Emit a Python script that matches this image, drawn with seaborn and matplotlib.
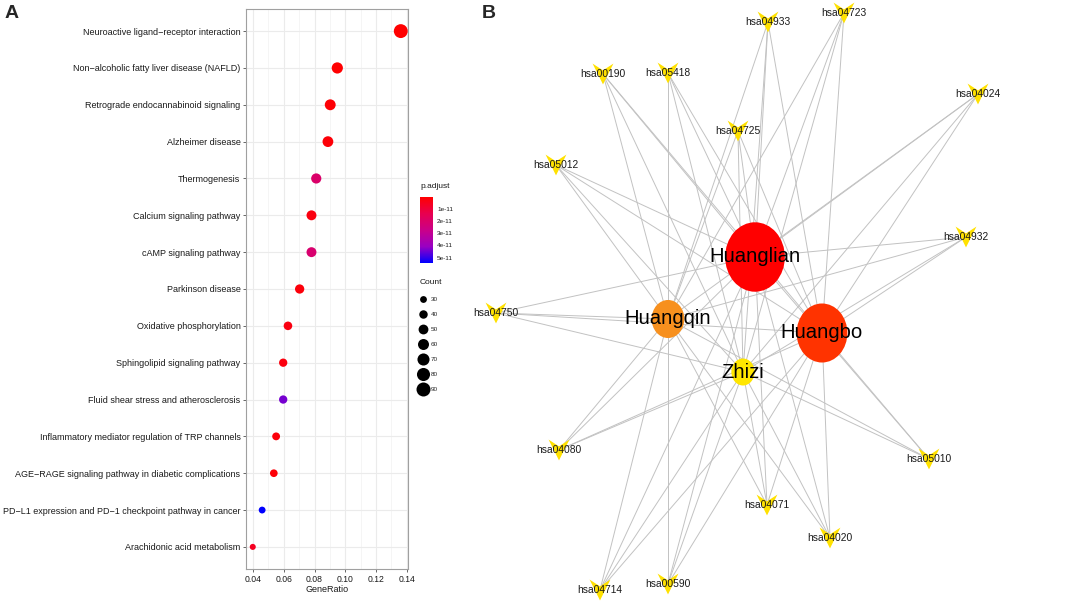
import matplotlib
matplotlib.use("Agg")
import matplotlib.pyplot as plt
import numpy as np
import pandas as pd
import seaborn as sns
from matplotlib.cm import ScalarMappable
from matplotlib.collections import LineCollection
from matplotlib.colors import LinearSegmentedColormap, Normalize
from matplotlib.lines import Line2D
from matplotlib.path import Path
from matplotlib.ticker import MultipleLocator

# ---- panel A: KEGG enrichment ----
terms = [
    "Neuroactive ligand\u2212receptor interaction",
    "Non\u2212alcoholic fatty liver disease (NAFLD)",
    "Retrograde endocannabinoid signaling",
    "Alzheimer disease",
    "Thermogenesis",
    "Calcium signaling pathway",
    "cAMP signaling pathway",
    "Parkinson disease",
    "Oxidative phosphorylation",
    "Sphingolipid signaling pathway",
    "Fluid shear stress and atherosclerosis",
    "Inflammatory mediator regulation of TRP channels",
    "AGE\u2212RAGE signaling pathway in diabetic complications",
    "PD\u2212L1 expression and PD\u22121 checkpoint pathway in cancer",
    "Arachidonic acid metabolism",
]
gene_ratio = [0.1361, 0.0948, 0.0902, 0.0887, 0.0811, 0.0780, 0.0780, 0.0703,
              0.0627, 0.0596, 0.0596, 0.0550, 0.0535, 0.0459, 0.0398]
counts = [89, 62, 59, 58, 53, 51, 51, 46, 41, 39, 39, 36, 35, 30, 26]
p_adjust = [2e-13, 5e-13, 1e-12, 1.5e-12, 2.0e-11, 3e-12, 2.1e-11, 2e-12,
            3e-12, 2.5e-12, 4.4e-11, 2e-12, 1.5e-12, 5.45e-11, 6e-12]

cbar_ticks = [1e-11, 2e-11, 3e-11, 4e-11, 5e-11]
cbar_labels = ["1e-11", "2e-11", "3e-11", "4e-11", "5e-11"]
count_breaks = [30, 40, 50, 60, 70, 80, 90]

# ---- panel B: herb-pathway network ----
herbs = ["Huanglian", "Huangqin", "Huangbo", "Zhizi"]
herb_x = [755, 668, 822, 743]
herb_y = [257, 319, 333, 372]
herb_sizes = [2500, 750, 1806, 378]
herb_colors = ["#FF0000", "#F7901E", "#FF3300", "#FFE600"]

pathways = ["hsa04933", "hsa04723", "hsa00190", "hsa05418", "hsa04024",
            "hsa04725", "hsa05012", "hsa04932", "hsa04750", "hsa04080",
            "hsa05010", "hsa04071", "hsa04020", "hsa00590", "hsa04714"]
pathway_x = [768, 844, 603, 668, 978, 738, 556, 966, 496, 559, 929, 767, 830, 668, 600]
pathway_y = [22, 13, 74, 73, 94, 131, 165, 237, 313, 450, 459, 505, 538, 584, 590]

sns.set_theme(style="white")
plt.rcParams["font.family"] = ["Liberation Sans", "DejaVu Sans"]

fig = plt.figure(figsize=(10.72, 6.05), dpi=100)

cmap = LinearSegmentedColormap.from_list(
    "redblue", ["#FF0000", "#E8004F", "#CA0088", "#9A00C2", "#0000FF"])
norm = Normalize(vmin=1e-13, vmax=5.45e-11)
size_range = (19, 100)
size_norm = (26, 89)

df = pd.DataFrame({"term": terms, "GeneRatio": gene_ratio,
                   "Count": counts, "p.adjust": p_adjust})

ax = fig.add_axes([246 / 1072, 1 - 569 / 605, 162 / 1072, 560 / 605])
ax.set_facecolor("white")
ax.xaxis.set_major_locator(MultipleLocator(0.02))
ax.xaxis.set_minor_locator(MultipleLocator(0.01))
ax.grid(which="major", color="#EBEBEB", lw=0.8, zorder=0)
ax.grid(which="minor", axis="x", color="#F2F2F2", lw=0.5, zorder=0)
ax.set_axisbelow(True)
sns.scatterplot(data=df, x="GeneRatio", y="term", hue="p.adjust", size="Count",
                palette=cmap, hue_norm=norm, sizes=size_range, size_norm=size_norm,
                edgecolor="none", legend=False, ax=ax, zorder=3)
ax.set_ylim(len(terms) - 1 + 0.6, -0.6)
ax.set_xlim(0.0354, 0.1408)
ax.set_xlabel("GeneRatio", fontsize=6.5, color="#1A1A1A", labelpad=1)
ax.set_ylabel("")
ax.set_xticks([0.04, 0.06, 0.08, 0.10, 0.12, 0.14])
ax.set_xticklabels(["0.04", "0.06", "0.08", "0.10", "0.12", "0.14"])
ax.tick_params(axis="x", which="major", labelsize=6.2, colors="#4D4D4D",
               length=2.5, width=0.6, pad=1.5, bottom=True)
ax.tick_params(axis="x", which="minor", length=0)
ax.tick_params(axis="y", labelsize=6.5, colors="#4D4D4D", length=2.5,
               width=0.6, pad=1.5, left=True)
for lab in ax.get_yticklabels() + ax.get_xticklabels():
    lab.set_color("#1A1A1A")
for sp in ax.spines.values():
    sp.set_color("#A0A0A0")
    sp.set_linewidth(0.8)

# colour bar legend (low values, red, at the top)
fig.text(420 / 1072, 1 - 187 / 605, "p.adjust", fontsize=6, color="#1A1A1A",
         ha="left", va="center")
cax = fig.add_axes([420 / 1072, 1 - 263 / 605, 13 / 1072, 66 / 605])
cb = fig.colorbar(ScalarMappable(norm=norm, cmap=cmap), cax=cax)
cb.set_ticks(cbar_ticks)
cb.set_ticklabels(cbar_labels)
cb.outline.set_visible(False)
cax.invert_yaxis()
cax.tick_params(length=2.5, width=0.6, color="white", direction="in",
                labelsize=4.6, pad=3, labelcolor="#1A1A1A")

# size legend
fig.text(420 / 1072, 1 - 283 / 605, "Count", fontsize=6, color="#1A1A1A",
         ha="left", va="center")
handles = []
for c in count_breaks:
    s = size_range[0] + (c - size_norm[0]) / (size_norm[1] - size_norm[0]) * (size_range[1] - size_range[0])
    handles.append(Line2D([], [], marker="o", linestyle="", color="black",
                          markeredgewidth=0, markersize=np.sqrt(s)))
fig.legend(handles, [str(c) for c in count_breaks], loc="upper left",
           bbox_to_anchor=(419 / 1072, 1 - 297 / 605), frameon=False,
           fontsize=4.6, labelspacing=1.48, handlelength=1.3,
           handletextpad=0.5, borderpad=0, borderaxespad=0)

# ---- panel B ----
ax2 = fig.add_axes([460 / 1072, 0, 612 / 1072, 1])
ax2.set_xlim(460, 1072)
ax2.set_ylim(605, 0)
ax2.axis("off")

segs = []
for px, py in zip(pathway_x, pathway_y):
    for hx, hy in zip(herb_x, herb_y):
        segs.append([(px, py), (hx, hy)])
ax2.add_collection(LineCollection(segs, colors="#C2C2C2", linewidths=0.7, zorder=1))

vee = Path([(-1, 1), (0, 0.35), (1, 1), (0, -1), (-1, 1)],
           [Path.MOVETO, Path.LINETO, Path.LINETO, Path.LINETO, Path.CLOSEPOLY])
circ = Path.unit_circle()
ellipse = Path(circ.vertices * np.array([0.86, 1.0]), circ.codes)

net_p = pd.DataFrame({"x": pathway_x, "y": pathway_y, "name": pathways})
sns.scatterplot(data=net_p, x="x", y="y", marker=vee, s=225, color="#FFE100",
                edgecolor="none", linewidth=0, ax=ax2, zorder=2, legend=False)
for name, x, y in zip(pathways, pathway_x, pathway_y):
    ax2.text(x, y, name, fontsize=7.4, color="#1A1A1A", ha="center",
             va="center", zorder=4)

net_h = pd.DataFrame({"x": herb_x, "y": herb_y, "name": herbs, "s": herb_sizes})
for (_, r), col in zip(net_h.iterrows(), herb_colors):
    ax2.scatter(r["x"], r["y"], s=r["s"], marker=ellipse, color=col,
                edgecolors="none", zorder=3)
    ax2.text(r["x"], r["y"], r["name"], fontsize=14.6, color="black",
             ha="center", va="center", zorder=5)
ax2.set_xlabel("")
ax2.set_ylabel("")

fig.text(12 / 1072, 1 - 13 / 605, "A", fontsize=14, fontweight="bold",
         ha="center", va="center")
fig.text(489 / 1072, 1 - 13 / 605, "B", fontsize=14, fontweight="bold",
         ha="center", va="center")

fig.savefig("out.png", dpi=100)
